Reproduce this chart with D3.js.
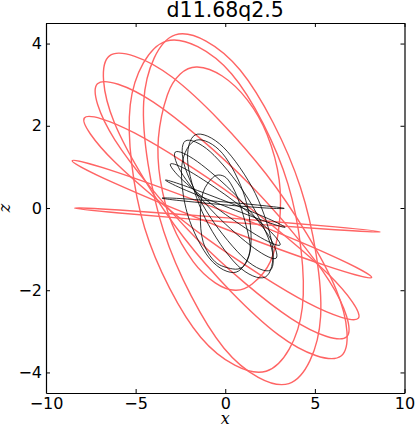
<!DOCTYPE html>
<html>
<head>
<meta charset="utf-8">
<script src="https://cdn.jsdelivr.net/npm/d3@7"></script>
<style>
  body { margin: 0; background: #fff; }
  svg { display: block; }
  .tick text { font-family: "DejaVu Sans", sans-serif; font-size: 16px; fill: #000; }
  .tick line, .domain { stroke: #000; }
</style>
</head>
<body>
<div id="chart"></div>
<script>
// title and axes
var title = "d11.68q2.5"
var xTicks = [-10, -5, 0, 5, 10]
var yTicks = [-4, -2, 0, 2, 4]

// red orbit, one closed loop per array (x, z)
var redLoop1 = [[8.64,-0.58],[6.14,-0.46],[0.12,-0.24],[-5.91,-0.05],[-8.41,0.0],[-5.92,-0.12],[0.10,-0.34],[6.13,-0.53]]
var redLoop2 = [[8.17,-1.69],[5.84,-1.14],[-0.02,-0.09],[-5.98,0.86],[-8.54,1.15],[-6.21,0.61],[-0.35,-0.45],[5.61,-1.40]]
var redLoop3 = [[7.43,-2.68],[5.77,-1.62],[0.61,0.25],[-5.04,1.82],[-7.86,2.19],[-6.19,1.13],[-1.04,-0.74],[4.61,-2.31]]
var redLoop4 = [[6.78,-3.13],[5.80,-1.77],[1.33,0.59],[-4.03,2.58],[-7.13,3.02],[-6.16,1.66],[-1.68,-0.71],[3.68,-2.69]]
var redLoop5 = [[6.46,-3.60],[6.19,-1.99],[2.29,0.82],[-2.95,3.18],[-6.46,3.70],[-6.19,2.08],[-2.29,-0.73],[2.95,-3.08]]
var redLoop6 = [[3.55,-4.27],[5.32,-2.64],[4.19,0.51],[0.84,3.35],[-2.79,4.21],[-4.55,2.58],[-3.43,-0.57],[-0.07,-3.41]]
var redLoop7 = [[2.28,-3.97],[4.30,-2.42],[3.50,0.58],[0.36,3.26],[-3.29,4.06],[-5.30,2.51],[-4.50,-0.48],[-1.36,-3.15]]
var redLoop8 = [[-1.56,3.43],[-0.17,3.21],[1.23,2.63],[2.34,1.78],[3.01,0.68],[3.01,-0.41],[2.51,-1.31],[1.50,-1.85],
                [0.56,-2.00],[-0.56,-1.82],[-1.78,-1.31],[-2.95,-0.41],[-3.62,0.68],[-3.73,1.70],[-3.23,2.75],[-2.51,3.26]]

// black orbit
var blackLoop1 = [[3.29,-0.01],[2.29,0.05],[-0.11,0.15],[-2.52,0.23],[-3.53,0.24],[-2.53,0.18],[-0.13,0.08],[2.28,0.0]]
var blackLoop2 = [[3.34,-0.47],[2.40,-0.26],[0.05,0.16],[-2.33,0.55],[-3.34,0.68],[-2.40,0.47],[-0.05,0.05],[2.33,-0.34]]
var blackLoop3 = [[3.06,-0.90],[2.35,-0.50],[0.26,0.24],[-1.98,0.89],[-3.06,1.07],[-2.35,0.67],[-0.26,-0.07],[1.98,-0.72]]
var blackLoop4 = [[2.84,-1.22],[2.42,-0.67],[0.59,0.31],[-1.56,1.13],[-2.79,1.36],[-2.36,0.80],[-0.53,-0.16],[1.62,-0.98]]
var blackLoop5 = [[2.51,-1.51],[2.50,-0.85],[1.11,0.34],[-0.84,1.37],[-2.23,1.63],[-2.23,0.97],[-0.84,-0.22],[1.12,-1.25]]
var blackLoop6 = [[2.23,-1.68],[2.64,-0.96],[1.68,0.35],[-0.11,1.48],[-1.67,1.78],[-2.08,1.06],[-1.12,-0.25],[0.67,-1.39]]
var blackLoop7 = [[0.61,-1.56],[1.42,-0.94],[1.10,0.26],[-0.16,1.33],[-1.62,1.65],[-2.42,1.04],[-2.10,-0.16],[-0.85,-1.24]]
var blackLoop8 = [[-0.28,0.80],[0.17,0.68],[0.67,0.27],[1.11,-0.34],[1.39,-0.90],[1.28,-1.22],[0.95,-1.44],[0.39,-1.48],
                  [-0.56,-1.31],[-1.23,-0.83],[-1.39,-0.17],[-1.23,0.39],[-0.72,0.73]]

var redLoops = [redLoop1, redLoop2, redLoop3, redLoop4, redLoop5, redLoop6, redLoop7, redLoop8]
var blackLoops = [blackLoop1, blackLoop2, blackLoop3, blackLoop4, blackLoop5, blackLoop6, blackLoop7, blackLoop8]

// size of the picture and the plot box
var widthSvg = 416
var heightSvg = 427
var plotLeft = 46, plotRight = 404.5, plotTop = 23, plotBottom = 393
var tickLength = 4

var svg = d3.select("#chart")
  .append("svg")
  .attr("width", widthSvg)
  .attr("height", heightSvg)

var x = d3.scaleLinear().domain([-10, 10]).range([plotLeft, plotRight])
var y = d3.scaleLinear().domain([-4.5, 4.5]).range([plotBottom, plotTop])

// uniform catmull-rom keeps the loops round between the read points
var line = d3.line()
  .x(function(d) { return x(d[0]) })
  .y(function(d) { return y(d[1]) })
  .curve(d3.curveCatmullRomClosed.alpha(0))

// orbits
svg.append("g")
  .selectAll("path")
  .data(redLoops)
  .enter()
  .append("path")
  .attr("d", line)
  .attr("fill", "none")
  .attr("stroke", "#ff6464")
  .attr("stroke-width", 1.4)

svg.append("g")
  .selectAll("path")
  .data(blackLoops)
  .enter()
  .append("path")
  .attr("d", line)
  .attr("fill", "none")
  .attr("stroke", "#000")
  .attr("stroke-width", 0.8)

// axes with inward ticks on all four sides
svg.append("g")
  .attr("transform", "translate(0," + plotBottom + ")")
  .call(d3.axisBottom(x).tickValues(xTicks).tickSizeInner(-tickLength).tickSizeOuter(0).tickPadding(5))

svg.append("g")
  .attr("transform", "translate(0," + plotTop + ")")
  .call(d3.axisTop(x).tickValues(xTicks).tickSizeInner(-tickLength).tickSizeOuter(0).tickFormat(""))

svg.append("g")
  .attr("transform", "translate(" + plotLeft + ",0)")
  .call(d3.axisLeft(y).tickValues(yTicks).tickSizeInner(-tickLength).tickSizeOuter(0).tickPadding(4))

svg.append("g")
  .attr("transform", "translate(" + plotRight + ",0)")
  .call(d3.axisRight(y).tickValues(yTicks).tickSizeInner(-tickLength).tickSizeOuter(0).tickFormat(""))

svg.selectAll(".domain").attr("stroke-width", 1.2)

// title and labels
svg.append("text")
  .attr("x", (plotLeft + plotRight) / 2)
  .attr("y", 17)
  .attr("text-anchor", "middle")
  .attr("font-family", "DejaVu Sans, sans-serif")
  .attr("font-size", "20.5px")
  .text(title)

svg.append("text")
  .attr("x", (plotLeft + plotRight) / 2)
  .attr("y", 424)
  .attr("text-anchor", "middle")
  .attr("font-family", "DejaVu Serif, serif")
  .attr("font-style", "italic")
  .attr("font-size", "16px")
  .text("x")

svg.append("text")
  .attr("transform", "translate(10," + y(0) + ") rotate(-90)")
  .attr("text-anchor", "middle")
  .attr("font-family", "DejaVu Serif, serif")
  .attr("font-style", "italic")
  .attr("font-size", "16px")
  .text("z")
</script>
</body>
</html>
